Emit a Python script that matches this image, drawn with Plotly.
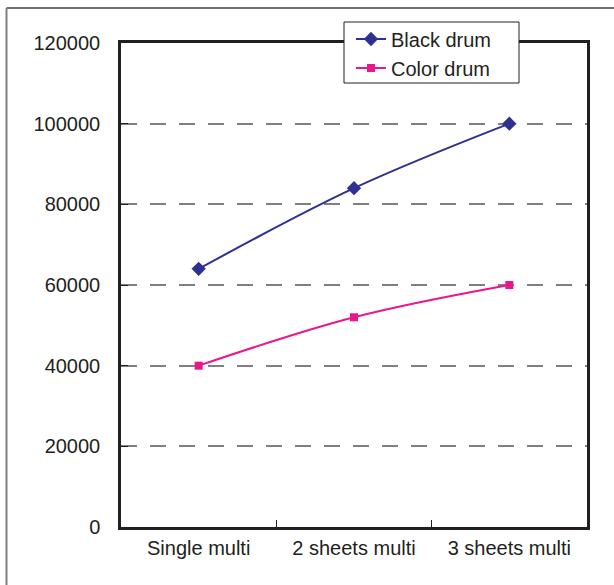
import plotly.graph_objects as go

categories = ["Single multi", "2 sheets multi", "3 sheets multi"]
black_drum = [64000, 84000, 100000]
color_drum = [40000, 52000, 60000]
y_ticks = [0, 20000, 40000, 60000, 80000, 100000, 120000]

W, H = 614, 585
L, R, T, B = 121, 27, 43, 58
pw, ph = W - L - R, H - T - B

def px(x):
    return (x - L) / pw

def py(y):
    return (H - B - y) / ph

fig = go.Figure()
fig.add_trace(go.Scatter(
    x=categories, y=black_drum, name="Black drum", mode="lines+markers",
    line=dict(color="#2E3192", width=2, shape="spline"),
    marker=dict(symbol="diamond", size=11, color="#2E3192"),
))
fig.add_trace(go.Scatter(
    x=categories, y=color_drum, name="Color drum", mode="lines+markers",
    line=dict(color="#EC168C", width=2, shape="spline"),
    marker=dict(symbol="square", size=8, color="#EC168C"),
))

font = dict(family="Liberation Sans, Arial, sans-serif", size=20, color="#231F20")

fig.update_layout(
    width=W, height=H,
    margin=dict(l=L, r=R, t=T, b=B, pad=0),
    paper_bgcolor="white", plot_bgcolor="white",
    font=font,
    showlegend=True,
    legend=dict(
        x=px(351), y=py(19.5), xanchor="left", yanchor="top",
        bgcolor="rgba(0,0,0,0)", borderwidth=0,
        font=font, tracegroupgap=0,
    ),
    shapes=[
        dict(type="line", xref="paper", yref="paper",
             x0=px(6.5), x1=px(614), y0=py(8), y1=py(8),
             line=dict(color="#404040", width=1.5)),
        dict(type="line", xref="paper", yref="paper",
             x0=px(6.5), x1=px(6.5), y0=py(8), y1=py(585),
             line=dict(color="#808080", width=2)),
        dict(type="rect", xref="paper", yref="paper", layer="above",
             x0=px(344), x1=px(519), y0=py(83), y1=py(22),
             fillcolor="white", line=dict(color="#231F20", width=1)),
    ],
)

fig.update_xaxes(
    type="category", range=[-0.5, 2.5],
    showline=True, linecolor="#231F20", linewidth=2.5, mirror=True,
    ticks="inside", ticklen=7, tickcolor="#231F20", tickwidth=1,
    tickson="boundaries", showgrid=False, zeroline=False,
    ticklabelstandoff=1,
)
fig.update_yaxes(
    range=[0, 120000], tickvals=y_ticks, ticktext=[str(v) for v in y_ticks],
    showline=True, linecolor="#231F20", linewidth=2.5, mirror=True,
    ticks="inside", ticklen=7, tickcolor="#231F20", tickwidth=1,
    showgrid=True, gridcolor="#7F7F7F", gridwidth=1.5, griddash="16px,13px",
    zeroline=False, ticklabelstandoff=14,
)

fig.write_html(
    "out.html",
    config={"displayModeBar": False},
    post_script="document.body.style.margin='0';document.body.style.padding='0';",
)
